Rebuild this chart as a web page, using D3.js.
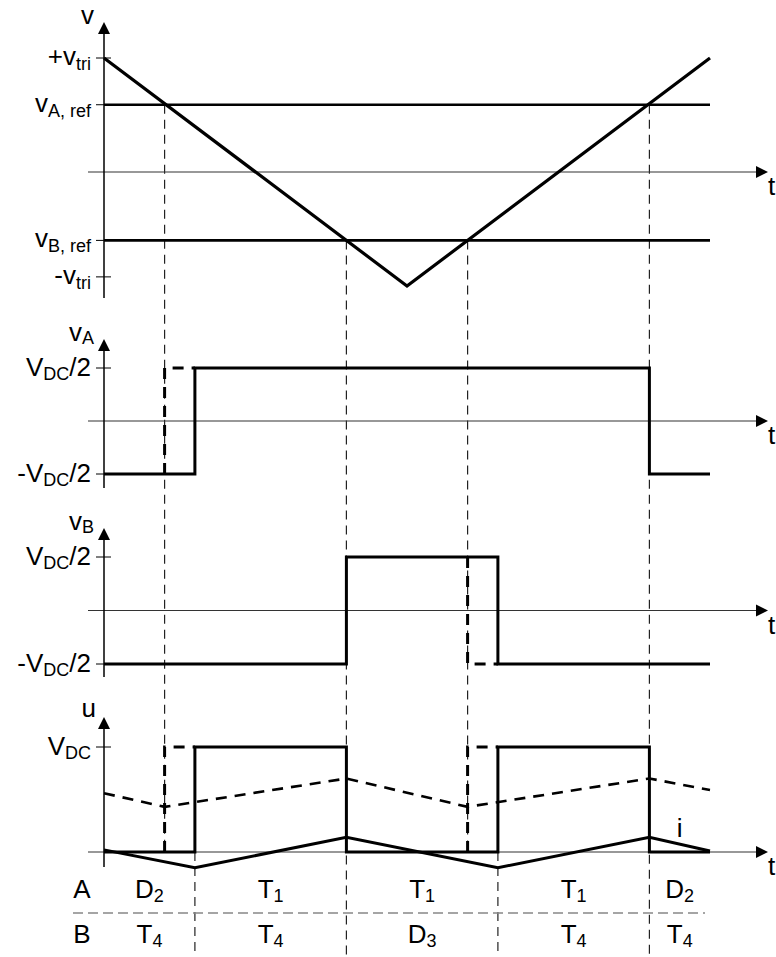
<!DOCTYPE html>
<html>
<head>
<meta charset="utf-8">
<script src="https://cdn.jsdelivr.net/npm/d3@7"></script>
<style>
  html, body { margin: 0; padding: 0; background: #fff; }
  svg { display: block; }
  text { font-family: "Liberation Sans", Arial, Helvetica, sans-serif; fill: #000; }
</style>
</head>
<body>
<svg id="chart" width="776" height="957"></svg>
<script>
// ---------------- DATA ----------------
// time is normalised to one carrier period (0..1)
const triTimes   = [0, 0.5, 1];
const triValues  = [1, -1, 1];            // carrier, units of v_tri
const vARef = 0.59;                       // reference A
const vBRef = -0.6;                       // reference B
const topTickValues = [1, 0.59, -0.6, -0.92];
const topTickLabels = [["+v", "tri"], ["v", "A, ref"], ["v", "B, ref"], ["-v", "tri"]];

const crossTimes   = [0.1, 0.4, 0.6, 0.9];   // comparator crossings
const delayedTimes = [0.15, 0.65];           // delayed (dead-time) switching

const vATimes  = [0, 0.15, 0.9, 1];
const vAValues = [-1, 1, -1, -1];            // units of V_DC/2
const vAIdeal  = [[0.1, -1], [0.1, 1], [0.15, 1]];

const vBTimes  = [0, 0.4, 0.65, 1];
const vBValues = [-1, 1, -1, -1];
const vBIdeal  = [[0.6, 1], [0.6, -1], [0.65, -1]];

const halfTickValues = [1, -1];
const halfTickLabels = [["V", "DC", "/2"], ["-V", "DC", "/2"]];

const uTimes   = [0, 0.15, 0.4, 0.65, 0.9, 1];
const uValues  = [0, 1, 0, 1, 0, 0];         // units of V_DC
const uIdeal   = [[[0.1, 0], [0.1, 1], [0.15, 1]], [[0.6, 0], [0.6, 1], [0.65, 1]]];
const uTickValues = [1];
const uTickLabels = [["V", "DC", ""]];

const uAvgTimes  = [0, 0.1, 0.4, 0.6, 0.9, 1];
const uAvgValues = [0.56, 0.43, 0.70, 0.43, 0.70, 0.59];

const iTimes  = [0, 0.15, 0.4, 0.65, 0.9, 1];
const iValues = [0.02, -0.15, 0.14, -0.15, 0.14, 0.01];

const intervalBounds = [0, 0.15, 0.4, 0.65, 0.9, 1];
const rowA = [["D", "2"], ["T", "1"], ["T", "1"], ["T", "1"], ["D", "2"]];
const rowB = [["T", "4"], ["T", "4"], ["D", "3"], ["T", "4"], ["T", "4"]];

// ---------------- LAYOUT ----------------
const svg = d3.select("#chart");
const X0 = 104, X1 = 710;
const x = d3.scaleLinear().domain([0, 1]).range([X0, X1]);
const FS = 26, SFS = 18;

const panels = {
  carrier: { y: d3.scaleLinear().domain([-1, 1]).range([286, 58]), axTop: 22, axBot: 298 },
  vA:      { y: d3.scaleLinear().domain([-1, 1]).range([474, 368]), axTop: 339, axBot: 488 },
  vB:      { y: d3.scaleLinear().domain([-1, 1]).range([664, 557]), axTop: 528, axBot: 677 },
  u:       { y: d3.scaleLinear().domain([0, 1]).range([852, 747]), axTop: 717, axBot: 867 }
};

function label(g, px, py, main, sub, anchor, subDy, suffix) {
  const sd = subDy == null ? 5 : subDy;
  const t = g.append("text").attr("x", px).attr("y", py)
    .attr("text-anchor", anchor || "start").attr("font-size", FS);
  t.append("tspan").text(main);
  if (sub) t.append("tspan").attr("font-size", SFS).attr("dy", sd).text(sub);
  if (suffix) t.append("tspan").attr("dy", sub ? -sd : 0).text(suffix);
  return t;
}

const line = d3.line();
const stepLine = d3.line().curve(d3.curveStepAfter);

// ---------------- GUIDES (thin dashed verticals) ----------------
const guides = svg.append("g").attr("stroke", "#222").attr("stroke-width", 1.2)
  .attr("stroke-dasharray", "9,6").attr("fill", "none");
const uZeroY = panels.u.y(0);
const guideSpec = [
  [crossTimes[0], panels.carrier.y(vARef), uZeroY],
  [crossTimes[1], panels.carrier.y(vBRef), 957],
  [crossTimes[2], panels.carrier.y(vBRef), uZeroY],
  [crossTimes[3], panels.carrier.y(vARef), 957],
  [delayedTimes[0], uZeroY, 957],
  [delayedTimes[1], uZeroY, 957]
];
guideSpec.forEach(([t, y0, y1]) => {
  guides.append("line").attr("x1", x(t)).attr("x2", x(t)).attr("y1", y0).attr("y2", y1);
});

// ---------------- AXES ----------------
function drawAxes(p, name, tickVals, tickLabs, lblDy, subDy) {
  const g = svg.append("g");
  const zy = p.y(0);
  // horizontal time axis
  g.append("line").attr("x1", 88).attr("x2", 758).attr("y1", zy).attr("y2", zy)
    .attr("stroke", "#333").attr("stroke-width", 1.2);
  g.append("path").attr("d", `M768,${zy} L756,${zy - 6} L756,${zy + 6} Z`).attr("fill", "#000");
  label(g, 768, zy + 23, "t");
  // vertical axis
  g.append("line").attr("x1", X0).attr("x2", X0).attr("y1", p.axTop + 8).attr("y2", p.axBot)
    .attr("stroke", "#000").attr("stroke-width", 1.5);
  g.append("path").attr("d", `M${X0},${p.axTop} L${X0 - 6},${p.axTop + 12} L${X0 + 6},${p.axTop + 12} Z`).attr("fill", "#000");
  // ticks
  tickVals.forEach((v, i) => {
    const ty = p.y(v);
    g.append("line").attr("x1", 96).attr("x2", 111).attr("y1", ty).attr("y2", ty)
      .attr("stroke", "#000").attr("stroke-width", 1);
    const lab = tickLabs[i];
    label(g, 91, ty + lblDy, lab[0], lab[1], "end", subDy, lab[2]);
  });
  // axis name
  label(g, name.x, p.axTop + name.dy, name.main, name.sub, "end", 3);
}

drawAxes(panels.carrier, { main: "v", x: 94, dy: 2 }, topTickValues, topTickLabels, 7, 5);
drawAxes(panels.vA, { main: "v", sub: "A", x: 94, dy: 2 }, halfTickValues, halfTickLabels, 8, 4);
drawAxes(panels.vB, { main: "v", sub: "B", x: 94, dy: 2 }, halfTickValues, halfTickLabels, 8, 4);
drawAxes(panels.u, { main: "u", x: 96, dy: 0 }, uTickValues, uTickLabels, 8, 4);

// ---------------- TOP PANEL: carrier and references ----------------
const pc = panels.carrier;
[vARef, vBRef].forEach(r => {
  svg.append("line").attr("x1", X0).attr("x2", X1).attr("y1", pc.y(r)).attr("y2", pc.y(r))
    .attr("stroke", "#000").attr("stroke-width", 2.6);
});
svg.append("path")
  .attr("d", line(triTimes.map((t, i) => [x(t), pc.y(triValues[i])])))
  .attr("fill", "none").attr("stroke", "#000").attr("stroke-width", 3.2).attr("stroke-linejoin", "miter");

// ---------------- WAVEFORMS ----------------
function thick(d, dashed) {
  const p = svg.append("path").attr("d", d).attr("fill", "none").attr("stroke", "#000")
    .attr("stroke-width", 3).attr("stroke-linejoin", "miter");
  if (dashed) p.attr("stroke-dasharray", "11,8");
  return p;
}
const pA = panels.vA, pB = panels.vB, pU = panels.u;
thick(line(vAIdeal.map(([t, v]) => [x(t), pA.y(v)])), true);
thick(stepLine(vATimes.map((t, i) => [x(t), pA.y(vAValues[i])])));
thick(line(vBIdeal.map(([t, v]) => [x(t), pB.y(v)])), true);
thick(stepLine(vBTimes.map((t, i) => [x(t), pB.y(vBValues[i])])));
uIdeal.forEach(seg => thick(line(seg.map(([t, v]) => [x(t), pU.y(v)])), true));
thick(line(uAvgTimes.map((t, i) => [x(t), pU.y(uAvgValues[i])])), true).attr("stroke-width", 2.6);
thick(stepLine(uTimes.map((t, i) => [x(t), pU.y(uValues[i])])));
thick(line(iTimes.map((t, i) => [x(t), pU.y(iValues[i])])));
label(svg, x(0.95), pU.y(0.14), "i", null, "middle");

// ---------------- TABLE ----------------
const tbl = svg.append("g");
tbl.append("line").attr("x1", 73).attr("x2", 705).attr("y1", 913).attr("y2", 913)
  .attr("stroke", "#888").attr("stroke-width", 1.5).attr("stroke-dasharray", "10,5");
label(tbl, 82, 898, "A", null, "middle");
label(tbl, 82, 943, "B", null, "middle");
[[rowA, 898], [rowB, 943]].forEach(([row, by]) => {
  row.forEach((c, i) => {
    const mid = (x(intervalBounds[i]) + x(intervalBounds[i + 1])) / 2;
    label(tbl, mid, by, c[0], c[1], "middle", 4);
  });
});
</script>
</body>
</html>
